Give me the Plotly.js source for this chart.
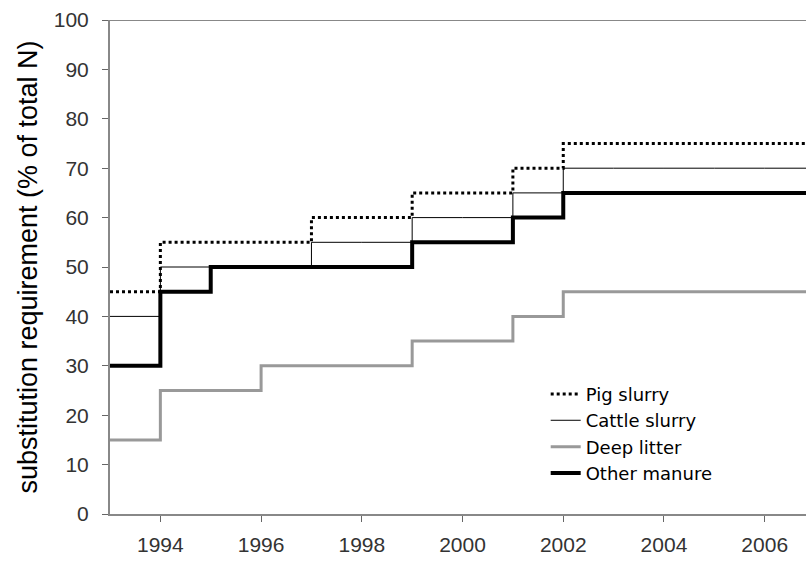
<!DOCTYPE html>
<html>
<head>
<meta charset="utf-8">
<script src="https://cdn.plot.ly/plotly-3.0.1.min.js"></script>
<style>html,body{margin:0;padding:0;background:#fff;overflow:hidden}#chart{width:806px;height:561px}</style>
</head>
<body>
<div id="chart"></div>
<script>
const years = [1993,1994,1995,1996,1997,1998,1999,2000,2001,2002,2003,2004,2005,2006,2007];
const pigSlurry    = [45,55,55,55,60,60,65,65,70,75,75,75,75,75,75];
const cattleSlurry = [40,50,50,50,55,55,60,60,65,70,70,70,70,70,70];
const deepLitter   = [15,25,25,30,30,30,35,35,40,45,45,45,45,45,45];
const otherManure  = [30,45,50,50,50,50,55,55,60,65,65,65,65,65,65];
const xTicks = [1994,1996,1998,2000,2002,2004,2006];
const yTicks = [0,10,20,30,40,50,60,70,80,90,100];

const pig = {x: years, y: pigSlurry, name: 'Pig slurry', legendrank: 1, mode: 'lines', line: {shape: 'hv', color: '#000', width: 3, dash: 'dot'}};
const cattle = {x: years, y: cattleSlurry, name: 'Cattle slurry', legendrank: 2, mode: 'lines', line: {shape: 'hv', color: '#000', width: 1}};
const deep = {x: years, y: deepLitter, name: 'Deep litter', legendrank: 3, mode: 'lines', line: {shape: 'hv', color: '#999', width: 3}};
const other = {x: years, y: otherManure, name: 'Other manure', legendrank: 4, mode: 'lines', line: {shape: 'hv', color: '#000', width: 4}};
const ordered = [deep, cattle, other, pig];

const layout = {
  width: 806, height: 561,
  margin: {l: 110, r: 0, t: 20, b: 47},
  paper_bgcolor: '#fff', plot_bgcolor: '#fff',
  font: {family: 'Liberation Sans, Arial, sans-serif', color: '#333'},
  showlegend: true,
  legend: {x: 0.626, y: 0.28, xanchor: 'left', yanchor: 'top', traceorder: 'normal',
           font: {family: 'DejaVu Sans, sans-serif', size: 18, color: '#000'}, bgcolor: 'rgba(255,255,255,0)', tracegroupgap: 0},
  xaxis: {range: [1993, 2006.82], tickvals: xTicks, ticktext: xTicks.map(String), ticks: 'outside', ticklen: 6,
          tickcolor: '#666', showgrid: false, zeroline: false, showline: true, linecolor: '#888', linewidth: 2,
          tickfont: {size: 21, color: '#333'}, ticklabelstandoff: 5, fixedrange: true},
  yaxis: {range: [0, 100], tickvals: yTicks, ticks: 'outside', ticklen: 6, tickcolor: '#666',
          showgrid: false, zeroline: false, showline: true, linecolor: '#888', linewidth: 2,
          tickfont: {size: 21, color: '#333'}, ticklabelstandoff: 9,
          title: {text: 'substitution requirement (% of total N)', font: {size: 27, color: '#000'}, standoff: 8}},
  shapes: [
    {type: 'line', xref: 'paper', yref: 'y', x0: 0, x1: 1, y0: 100, y1: 100, line: {color: '#888', width: 2}}
  ]
};
Plotly.newPlot('chart', ordered, layout, {staticPlot: true});
</script>
</body>
</html>
